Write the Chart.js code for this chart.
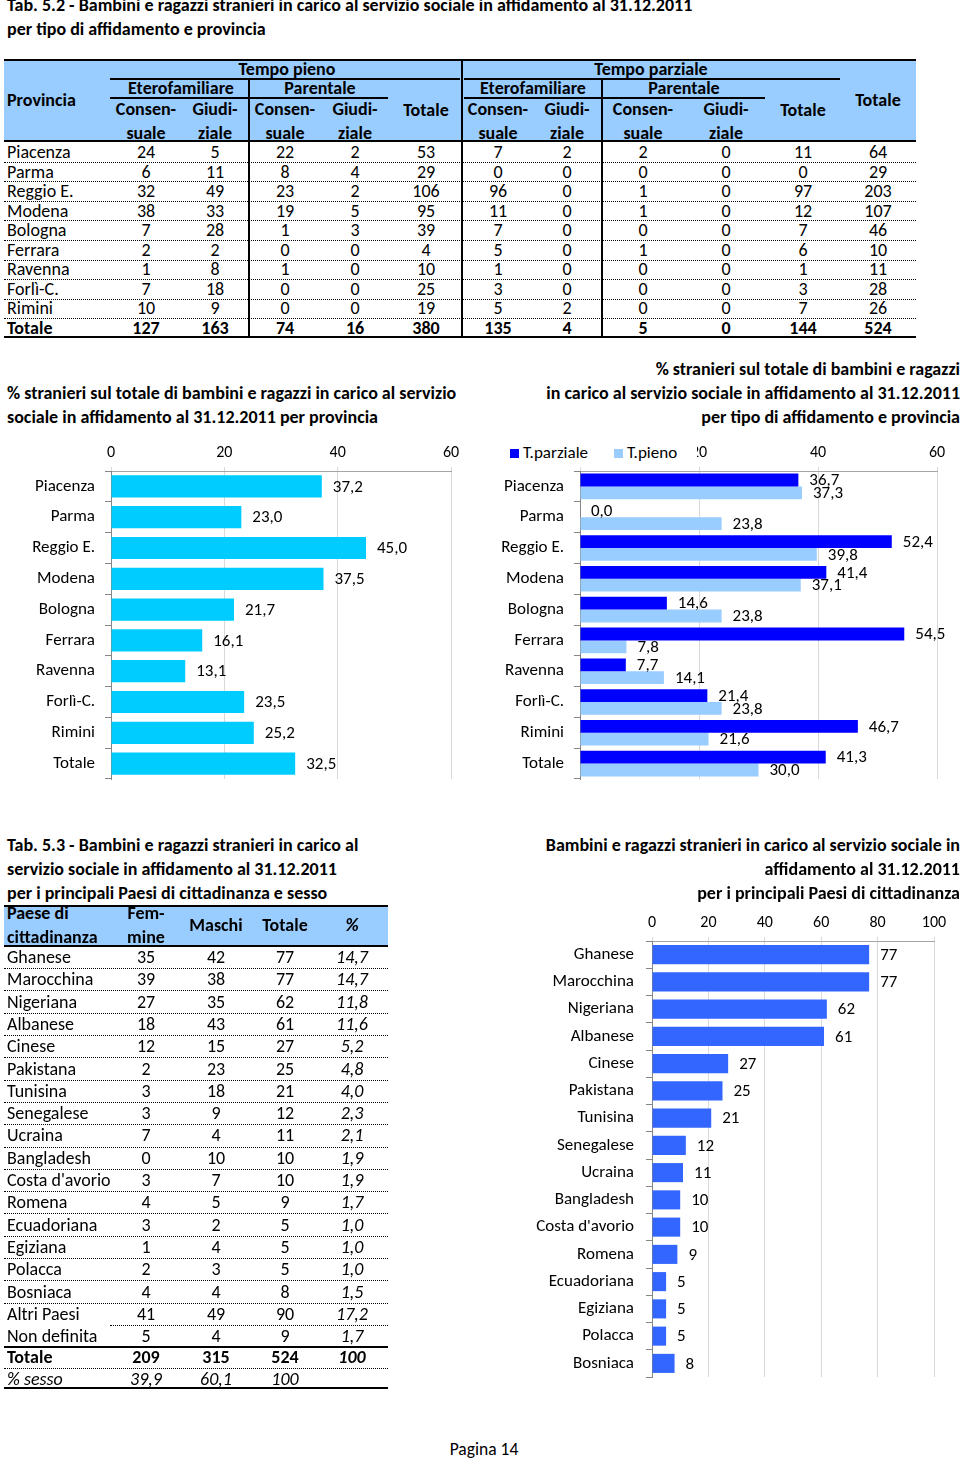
<!DOCTYPE html>
<html lang="it">
<head>
<meta charset="utf-8">
<title>Pagina 14</title>
<script src="https://cdn.jsdelivr.net/npm/chart.js@4.4.1/dist/chart.umd.min.js"></script>
<style>
  body { margin: 0; background: #fff; }
  #page { position: relative; width: 960px; height: 1461px; overflow: hidden; background: #fff;
          font-family: Carlito, Calibri, "Open Sans", sans-serif; color: #000; }
  .t { position: absolute; height: 22px; line-height: 22px; font-size: 18px; white-space: nowrap; }
  .b { font-weight: bold; }
  .i { font-style: italic; }
  .s17 { font-size: 17.5px; }
  .ln { position: absolute; }
  .box { position: absolute; }
  #legend2 { position: absolute; left: 505px; top: 442px; width: 192px; height: 22px; background: #fff;
             font-size: 17px; line-height: 22px; white-space: nowrap; }
  #legend2 span.sq { display: inline-block; width: 9px; height: 9px; margin: 0 4px 0 5px; }
</style>
</head>
<body>
<div id="page">
  <div class="box" style="left:0;top:435px;width:480px;height:355px"><canvas id="chartProv"></canvas></div>
  <div class="box" style="left:490px;top:435px;width:470px;height:355px"><canvas id="chartTipo"></canvas></div>
  <div class="box" style="left:520px;top:900px;width:440px;height:490px"><canvas id="chartPaesi"></canvas></div>
  <div id="legend2"><span class="sq" style="background:#0000FF"></span>T.parziale<span class="sq" style="background:#99CCFF;margin-left:26px"></span>T.pieno</div>
</div>
<script>
'use strict';

// Tab. 5.2 - rows and columns
const province = ['Piacenza', 'Parma', 'Reggio E.', 'Modena', 'Bologna', 'Ferrara', 'Ravenna', 'Forlì-C.', 'Rimini', 'Totale'];
const pienoEteroCons = [24, 6, 32, 38, 7, 2, 1, 7, 10, 127];
const pienoEteroGiud = [5, 11, 49, 33, 28, 2, 8, 18, 9, 163];
const pienoParCons = [22, 8, 23, 19, 1, 0, 1, 0, 0, 74];
const pienoParGiud = [2, 4, 2, 5, 3, 0, 0, 0, 0, 16];
const pienoTot = [53, 29, 106, 95, 39, 4, 10, 25, 19, 380];
const parzEteroCons = [7, 0, 96, 11, 7, 5, 1, 3, 5, 135];
const parzEteroGiud = [2, 0, 0, 0, 0, 0, 0, 0, 2, 4];
const parzParCons = [2, 0, 1, 1, 0, 1, 0, 0, 0, 5];
const parzParGiud = [0, 0, 0, 0, 0, 0, 0, 0, 0, 0];
const parzTot = [11, 0, 97, 12, 7, 6, 1, 3, 7, 144];
const totaleProv = [64, 29, 203, 107, 46, 10, 11, 28, 26, 524];

// % stranieri per provincia
const pctStranieri = [37.2, 23.0, 45.0, 37.5, 21.7, 16.1, 13.1, 23.5, 25.2, 32.5];
// % stranieri per tipo di affidamento
const pctParziale = [36.7, 0.0, 52.4, 41.4, 14.6, 54.5, 7.7, 21.4, 46.7, 41.3];
const pctPieno = [37.3, 23.8, 39.8, 37.1, 23.8, 7.8, 14.1, 23.8, 21.6, 30.0];
const pctTicks = [0, 20, 40, 60];

// Tab. 5.3 - Paesi di cittadinanza
const paesi = ['Ghanese', 'Marocchina', 'Nigeriana', 'Albanese', 'Cinese', 'Pakistana', 'Tunisina', 'Senegalese',
  'Ucraina', 'Bangladesh', "Costa d'avorio", 'Romena', 'Ecuadoriana', 'Egiziana', 'Polacca', 'Bosniaca',
  'Altri Paesi', 'Non definita'];
const femmine = [35, 39, 27, 18, 12, 2, 3, 3, 7, 0, 3, 4, 3, 1, 2, 4, 41, 5];
const maschi = [42, 38, 35, 43, 15, 23, 18, 9, 4, 10, 7, 5, 2, 4, 3, 4, 49, 4];
const totPaese = [77, 77, 62, 61, 27, 25, 21, 12, 11, 10, 10, 9, 5, 5, 5, 8, 90, 9];
const pctPaese = [14.7, 14.7, 11.8, 11.6, 5.2, 4.8, 4.0, 2.3, 2.1, 1.9, 1.9, 1.7, 1.0, 1.0, 1.0, 1.5, 17.2, 1.7];
const totaleSesso = [209, 315, 524];
const pctSesso = [39.9, 60.1, 100];
const paesiTicks = [0, 20, 40, 60, 80, 100];

const FONT = 'Carlito, Calibri, "Open Sans", sans-serif';
Chart.defaults.font.family = FONT;
Chart.defaults.color = '#000';

let page = document.getElementById('page');

function fmt(v, dec) {
  return v.toFixed(dec).replace('.', ',');
}

// Text centred vertically on y; align 'l', 'c' or 'r'
function addText(x, y, s, align, cls) {
  let d = document.createElement('div');
  d.className = 't' + (cls ? ' ' + cls : '');
  d.textContent = s;
  d.style.top = (y - 11) + 'px';
  if (align === 'c') {
    d.style.left = (x - 150) + 'px'; d.style.width = '300px'; d.style.textAlign = 'center';
  } else if (align === 'r') {
    d.style.left = (x - 700) + 'px'; d.style.width = '700px'; d.style.textAlign = 'right';
  } else {
    d.style.left = x + 'px';
  }
  page.appendChild(d);
}

function addBox(x, y, w, h, css) {
  let d = document.createElement('div');
  d.className = 'ln';
  d.style.left = x + 'px';
  d.style.top = y + 'px';
  d.style.width = w + 'px';
  d.style.height = h + 'px';
  d.style.cssText += css;
  page.appendChild(d);
}

function hline(x1, x2, y, th) { addBox(x1, y - th / 2, x2 - x1, th, 'background:#000;'); }
function vline(x, y1, y2, th) { addBox(x - th / 2, y1, th, y2 - y1, 'background:#000;'); }
function dotted(x1, x2, y) { addBox(x1, y, x2 - x1, 0, 'border-top:1px dotted #000;'); }

// ---- Titles ----
addText(7, 5, 'Tab. 5.2 - Bambini e ragazzi stranieri in carico al servizio sociale in affidamento al 31.12.2011', 'l', 'b');
addText(7, 29, 'per tipo di affidamento e provincia', 'l', 'b');

addText(7, 393, '% stranieri sul totale di bambini e ragazzi in carico al servizio', 'l', 'b');
addText(7, 417, 'sociale in affidamento al 31.12.2011 per provincia', 'l', 'b');

addText(960, 369, '% stranieri sul totale di bambini e ragazzi', 'r', 'b');
addText(960, 393, 'in carico al servizio sociale in affidamento al 31.12.2011', 'r', 'b');
addText(960, 417, 'per tipo di affidamento e provincia', 'r', 'b');

addText(7, 845, 'Tab. 5.3 - Bambini e ragazzi stranieri in carico al', 'l', 'b');
addText(7, 869, 'servizio sociale in affidamento al 31.12.2011', 'l', 'b');
addText(7, 893, 'per i principali Paesi di cittadinanza e sesso', 'l', 'b');

addText(960, 845, 'Bambini e ragazzi stranieri in carico al servizio sociale in', 'r', 'b');
addText(960, 869, 'affidamento al 31.12.2011', 'r', 'b');
addText(960, 893, 'per i principali Paesi di cittadinanza', 'r', 'b');

addText(484, 1449, 'Pagina 14', 'c', 's17');

// ---- Tab. 5.2 ----
addBox(4, 60, 912, 81, 'background:#99CCFF;');
hline(4, 916, 60, 2);
hline(4, 916, 141, 2);
hline(4, 916, 337, 2);
hline(110, 460, 79, 1.5);
hline(464, 840, 79, 1.5);
hline(110, 388, 98, 1.5);
hline(464, 765, 98, 1.5);
vline(462, 60, 337, 2);
vline(249, 80, 337, 1.5);
vline(602, 80, 337, 1.5);

addText(287, 69, 'Tempo pieno', 'c', 'b');
addText(651, 69, 'Tempo parziale', 'c', 'b');
addText(181, 88, 'Eterofamiliare', 'c', 'b');
addText(320, 88, 'Parentale', 'c', 'b');
addText(533, 88, 'Eterofamiliare', 'c', 'b');
addText(684, 88, 'Parentale', 'c', 'b');
addText(7, 100, 'Provincia', 'l', 'b');

let colX52 = [146, 215, 285, 355, 426, 498, 567, 643, 726, 803, 878];
let cols52 = [pienoEteroCons, pienoEteroGiud, pienoParCons, pienoParGiud, pienoTot,
  parzEteroCons, parzEteroGiud, parzParCons, parzParGiud, parzTot, totaleProv];
[0, 2, 5, 7].forEach(function (c) {
  addText(colX52[c], 109, 'Consen-', 'c', 'b');
  addText(colX52[c], 133, 'suale', 'c', 'b');
  addText(colX52[c + 1], 109, 'Giudi-', 'c', 'b');
  addText(colX52[c + 1], 133, 'ziale', 'c', 'b');
});
addText(colX52[4], 110, 'Totale', 'c', 'b');
addText(colX52[9], 110, 'Totale', 'c', 'b');
addText(colX52[10], 100, 'Totale', 'c', 'b');

let rowStep52 = 19.55;
for (let r = 0; r < province.length; r++) {
  let y = 152 + r * rowStep52;
  let last = r === province.length - 1;
  addText(7, y, province[r], 'l', last ? 'b' : '');
  for (let c = 0; c < cols52.length; c++) {
    addText(colX52[c], y, String(cols52[c][r]), 'c', last ? 'b' : '');
  }
  if (!last) dotted(4, 916, y + rowStep52 / 2);
}

// ---- Tab. 5.3 ----
addBox(4, 906, 384, 40, 'background:#99CCFF;');
hline(4, 388, 906, 2);
hline(4, 388, 946, 2);
addText(7, 913, 'Paese di', 'l', 'b');
addText(7, 937, 'cittadinanza', 'l', 'b');
addText(146, 913, 'Fem-', 'c', 'b');
addText(146, 937, 'mine', 'c', 'b');
addText(216, 925, 'Maschi', 'c', 'b');
addText(285, 925, 'Totale', 'c', 'b');
addText(352, 925, '%', 'c', 'b i');

let rowStep53 = 22.3;
for (let r = 0; r < paesi.length; r++) {
  let y = 957 + r * rowStep53;
  addText(7, y, paesi[r], 'l', '');
  addText(146, y, String(femmine[r]), 'c', '');
  addText(216, y, String(maschi[r]), 'c', '');
  addText(285, y, String(totPaese[r]), 'c', '');
  addText(352, y, fmt(pctPaese[r], 1), 'c', 'i');
  if (r < paesi.length - 1) dotted(paesi[r] === 'Altri Paesi' ? 110 : 4, 388, y + rowStep53 / 2);
}
hline(4, 388, 1347, 2);
addText(7, 1357, 'Totale', 'l', 'b');
addText(146, 1357, String(totaleSesso[0]), 'c', 'b');
addText(216, 1357, String(totaleSesso[1]), 'c', 'b');
addText(285, 1357, String(totaleSesso[2]), 'c', 'b');
addText(352, 1357, '100', 'c', 'b i');
dotted(4, 388, 1368);
addText(7, 1379, '% sesso', 'l', 'i');
addText(146, 1379, fmt(pctSesso[0], 1), 'c', 'i');
addText(216, 1379, fmt(pctSesso[1], 1), 'c', 'i');
addText(285, 1379, String(pctSesso[2]), 'c', 'i');
hline(4, 388, 1388, 2);

// ---- Charts ----
// draws the value next to the end of each bar
const valueLabels = {
  id: 'valueLabels',
  afterDatasetsDraw(chart, args, opts) {
    let ctx = chart.ctx;
    ctx.save();
    ctx.font = '17px ' + FONT;
    ctx.fillStyle = '#000';
    ctx.textBaseline = 'middle';
    ctx.textAlign = 'left';
    chart.data.datasets.forEach(function (ds, i) {
      chart.getDatasetMeta(i).data.forEach(function (bar, j) {
        ctx.fillText(fmt(ds.data[j], opts.decimals), bar.x + opts.offset, bar.y + 1);
      });
    });
    ctx.restore();
  }
};

function barOptions(o) {
  return {
    indexAxis: 'y',
    responsive: true,
    maintainAspectRatio: false,
    animation: false,
    layout: { padding: { left: 0, top: 0, right: o.right, bottom: o.bottom } },
    plugins: {
      legend: { display: false },
      tooltip: { enabled: false },
      valueLabels: { decimals: o.decimals, offset: 11 }
    },
    scales: {
      x: {
        position: 'top',
        min: 0,
        max: o.ticks[o.ticks.length - 1],
        afterFit: function (s) { s.height = o.xh; },
        afterBuildTicks: function (s) { s.ticks = o.ticks.map(function (v) { return { value: v }; }); },
        ticks: { padding: 4, color: '#000', font: { size: 16 } },
        grid: { color: '#d9d9d9', tickLength: 4 },
        border: { color: '#a6a6a6' }
      },
      y: {
        // fixed label column, and no extra room reserved above/below for the labels
        afterFit: function (s) { s.width = o.yw; s.paddingTop = 0; s.paddingBottom = 0; },
        ticks: { padding: o.pad, color: '#000', font: { size: 17 }, autoSkip: false },
        grid: { drawOnChartArea: false, tickLength: 6, color: '#868686', offset: true },
        border: { color: '#868686' }
      }
    }
  };
}

new Chart(document.getElementById('chartProv'), {
  type: 'bar',
  data: {
    labels: province,
    datasets: [{ data: pctStranieri, backgroundColor: '#00CCFF', barPercentage: 0.72, categoryPercentage: 1 }]
  },
  options: barOptions({ ticks: pctTicks, xh: 36, yw: 111, right: 29, bottom: 11, pad: 10, decimals: 1 }),
  plugins: [valueLabels]
});

new Chart(document.getElementById('chartTipo'), {
  type: 'bar',
  data: {
    labels: province,
    datasets: [
      { label: 'T.parziale', data: pctParziale, backgroundColor: '#0000FF', barPercentage: 1, categoryPercentage: 0.83 },
      { label: 'T.pieno', data: pctPieno, backgroundColor: '#99CCFF', barPercentage: 1, categoryPercentage: 0.83 }
    ]
  },
  options: barOptions({ ticks: pctTicks, xh: 36, yw: 90, right: 23, bottom: 11, pad: 10, decimals: 1 }),
  plugins: [valueLabels]
});

new Chart(document.getElementById('chartPaesi'), {
  type: 'bar',
  data: {
    labels: paesi.slice(0, 16),
    datasets: [{ data: totPaese.slice(0, 16), backgroundColor: '#3366FF', barPercentage: 0.7, categoryPercentage: 1 }]
  },
  options: barOptions({ ticks: paesiTicks, xh: 41, yw: 132, right: 26, bottom: 13, pad: 12, decimals: 0 }),
  plugins: [valueLabels]
});
</script>
</body>
</html>
